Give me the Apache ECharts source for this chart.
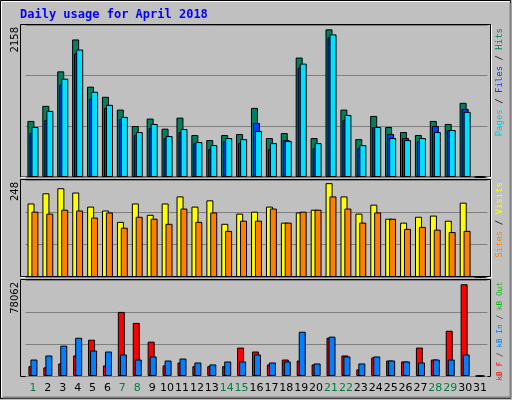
<!DOCTYPE html>
<html><head><meta charset="utf-8">
<script src="https://cdn.jsdelivr.net/npm/echarts@6/dist/echarts.min.js"></script>
<style>html,body{margin:0;padding:0;background:#C0C0C0}#c{width:512px;height:400px}</style>
</head><body><div id="c"></div>
<script>
const days = ['1','2','3','4','5','6','7','8','9','10','11','12','13','14','15','16','17','18','19','20','21','22','23','24','25','26','27','28','29','30','31'];
const weekend = ['1','7','8','14','15','21','22','28','29'];
const hits  = [796,1010,1500,1953,1282,1139,957,724,829,686,843,596,524,596,610,981,553,624,1696,553,2096,957,538,867,710,638,596,796,753,1053,0];
const files = [624,810,1310,1753,1110,981,824,596,696,553,638,481,395,510,481,767,395,524,1553,410,1982,810,410,710,610,553,510,724,667,967,0];
const pages = [710,939,1396,1810,1210,1024,853,638,753,581,681,496,453,553,538,653,481,510,1610,481,2025,881,453,710,553,524,553,638,667,925,0];
const visits= [188,214,227,216,180,170,141,188,159,188,206,180,196,136,162,167,180,139,165,172,240,206,162,185,149,139,154,157,144,190,0];
const sites = [167,162,172,170,152,165,126,154,149,136,175,141,165,118,144,144,175,139,167,172,206,175,139,165,149,123,128,121,115,118,0];
const kbF   = [8050,7000,10200,16700,29500,8600,52100,43200,27900,8600,11000,8050,8050,8050,23100,19900,9400,13400,12600,9400,31100,16700,5400,15100,12600,11800,23100,13400,36800,74600,0];
const kbIn  = [13400,16700,24700,31100,20700,19900,17500,13400,15900,12600,14200,11000,9400,11800,11800,17500,11000,11800,36000,10200,32000,15900,10200,15900,12600,11800,11000,13400,13400,17500,0];
const maxTop = 2158, maxMid = 248, maxBot = 78062;

const chart = echarts.init(document.getElementById('c'), null, {renderer:'canvas'});
const L = 25.5, R = 24.5;
const grids = [{left:L,right:R,top:25,height:152},{left:L,right:R,top:180,height:97},{left:L,right:R,top:280,height:96}];
const mkX = (i)=>({type:'category',gridIndex:i,data:days,axisLine:{show:false},axisTick:{show:false},
  axisLabel: i===2 ? {show:true,margin:7,fontSize:11,fontFamily:'DejaVu Sans',interval:0,
    color:(v)=>weekend.includes(v)?'#008040':'#000'} : {show:false}});
const mkY = (i,m)=>({type:'value',gridIndex:i,min:0,max:m,interval:m/3,axisLabel:{show:false},axisLine:{show:false},axisTick:{show:false},
  splitLine:{lineStyle:{color:'#808080',width:1}}});
const bs = (name,data,color,xi,w,gap)=>({type:'bar',name,data,xAxisIndex:xi,yAxisIndex:xi,barWidth:w,barGap:gap,
  itemStyle:{color,borderColor:'#000',borderWidth:1},animation:false,silent:true});
const rt = (x,y,parts,fs)=>({type:'text',x,y,rotation:Math.PI/2,style:{text:parts.map(p=>'{'+p[1]+'|'+p[0]+'}').join(''),
  rich:Object.fromEntries(parts.map(p=>[p[1],{fill:p[2],fontFamily:'DejaVu Sans Mono',fontSize:fs}])),align:'right',verticalAlign:'middle'}});
const colors = {pg:'#00C8E0',fl:'#0040FF',ht:'#008060',st:'#FF8000',vs:'#FFFF00',kf:'#FF0000',ki:'#0080FF',ko:'#00C000'};
chart.setOption({
  backgroundColor:'#C0C0C0',
  animation:false,
  grid:grids,
  xAxis:[mkX(0),mkX(1),mkX(2)],
  yAxis:[mkY(0,maxTop),mkY(1,maxMid),mkY(2,maxBot)],
  series:[
    bs('Hits',hits,'#008060',0,7,'-71%'),
    bs('Files',files,'#0040FF',0,7,'-71%'),
    bs('Pages',pages,'#00E0FF',0,7,'-71%'),
    bs('Visits',visits,'#FFFF00',1,7,'-45%'),
    bs('Sites',sites,'#FF8000',1,7,'-45%'),
    bs('kB F',kbF,'#FF0000',2,7,'-71%'),
    bs('kB In',kbIn,'#0080FF',2,7,'-71%')
  ],
  graphic:[
    {type:'rect',shape:{x:0.5,y:0.5,width:510,height:398},style:{fill:'none',stroke:'#000',lineWidth:1},z:-10},
    {type:'polyline',shape:{points:[[1.5,397],[1.5,1.5],[510,1.5]]},style:{stroke:'#fff',lineWidth:1,fill:'none'}},
    {type:'polyline',shape:{points:[[3,397.5],[510.5,397.5],[510.5,3]]},style:{stroke:'#808080',lineWidth:2,fill:'none'}},
    {type:'rect',shape:{x:20.5,y:24.5,width:470,height:152.5},style:{fill:'none',stroke:'#000',lineWidth:1}},
    {type:'rect',shape:{x:20.5,y:179.5,width:470,height:97},style:{fill:'none',stroke:'#000',lineWidth:1}},
    {type:'rect',shape:{x:20.5,y:279.5,width:470,height:97},style:{fill:'none',stroke:'#000',lineWidth:1}},
    {type:'polyline',shape:{points:[[21,177.5],[491.5,177.5],[491.5,25]]},style:{stroke:'#fff',lineWidth:1,fill:'none'}},
    {type:'polyline',shape:{points:[[21,277.5],[491.5,277.5],[491.5,180]]},style:{stroke:'#fff',lineWidth:1,fill:'none'}},
    {type:'text',x:20,y:9,style:{text:'Daily usage for April 2018',fill:'#0000FF',font:'bold 12px "DejaVu Sans Mono"'}},
    {type:'text',x:15,y:27,rotation:Math.PI/2,style:{text:String(maxTop),fill:'#000',font:'10px "DejaVu Sans"',align:'right',verticalAlign:'middle'}},
    {type:'text',x:15,y:182,rotation:Math.PI/2,style:{text:String(maxMid),fill:'#000',font:'10px "DejaVu Sans"',align:'right',verticalAlign:'middle'}},
    {type:'text',x:15,y:282,rotation:Math.PI/2,style:{text:String(maxBot),fill:'#000',font:'10px "DejaVu Sans"',align:'right',verticalAlign:'middle'}},
    rt(500,28,[['Pages','pg',colors.pg],[' / ','sl','#000'],['Files','fl',colors.fl],[' / ','s2','#000'],['Hits','ht',colors.ht]],9),
    rt(500,182,[['Sites','st',colors.st],[' / ','sl','#000'],['Visits','vs',colors.vs]],9),
    rt(500,282,[['kB F','kf',colors.kf],[' / ','sl','#000'],['kB In','ki',colors.ki],[' / ','s2','#000'],['kB Out','ko',colors.ko]],7.8)
  ]
});
</script></body></html>
